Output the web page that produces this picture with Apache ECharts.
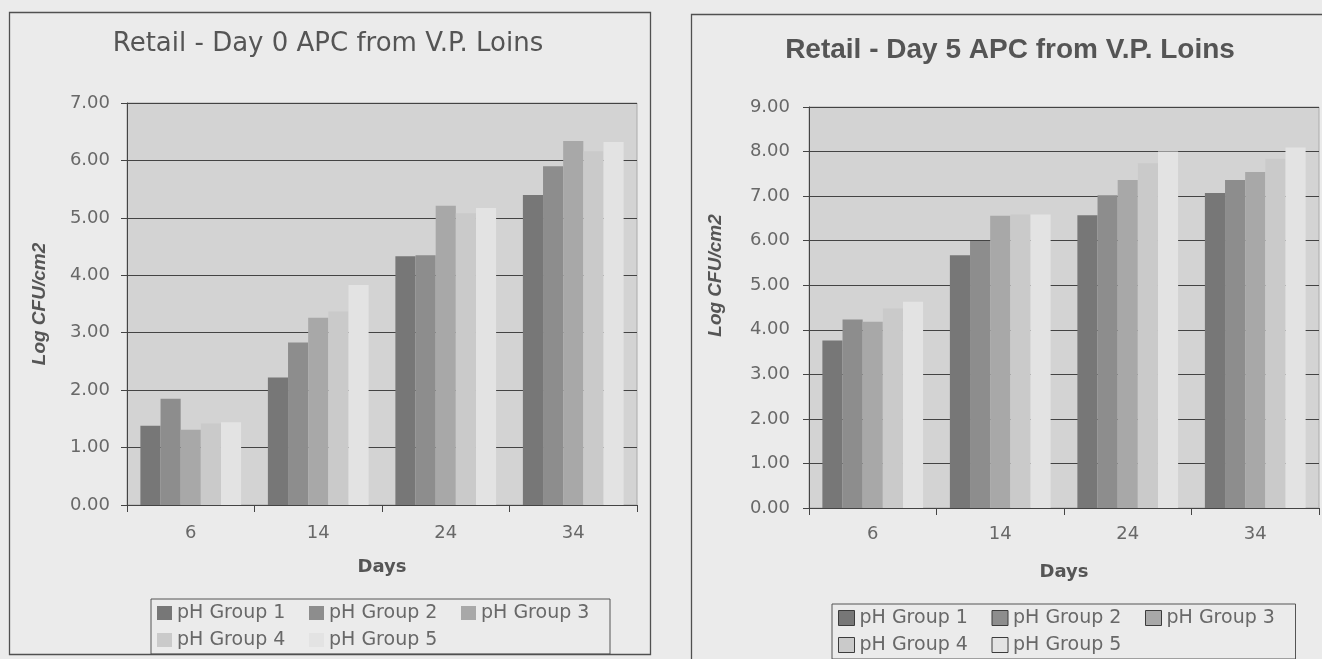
<!DOCTYPE html>
<html>
<head>
<meta charset="utf-8">
<script src="https://cdn.jsdelivr.net/npm/echarts@6/dist/echarts.min.js"></script>
<style>
  html, body { margin: 0; padding: 0; background: #ebebeb; }
  #chart { width: 1322px; height: 659px; }
</style>
</head>
<body>
<div id="chart"></div>
<script>
// Storage days on the category axis
const days = ['6', '14', '24', '34'];
const groupNames = ['pH Group 1', 'pH Group 2', 'pH Group 3', 'pH Group 4', 'pH Group 5'];

// Retail day 0 APC (log CFU/cm2), one array per pH group
const day0Group1 = [1.38, 2.22, 4.33, 5.40];
const day0Group2 = [1.85, 2.83, 4.35, 5.90];
const day0Group3 = [1.31, 3.26, 5.21, 6.34];
const day0Group4 = [1.42, 3.37, 5.08, 6.16];
const day0Group5 = [1.44, 3.83, 5.17, 6.32];

// Retail day 5 APC (log CFU/cm2)
const day5Group1 = [3.76, 5.67, 6.57, 7.07];
const day5Group2 = [4.23, 5.99, 7.02, 7.36];
const day5Group3 = [4.18, 6.56, 7.36, 7.54];
const day5Group4 = [4.48, 6.59, 7.74, 7.84];
const day5Group5 = [4.63, 6.59, 8.00, 8.09];

// Value-axis ranges (ticks every 1.00)
const day0AxisMax = 7;
const day5AxisMax = 9;

const day0 = [day0Group1, day0Group2, day0Group3, day0Group4, day0Group5];
const day5 = [day5Group1, day5Group2, day5Group3, day5Group4, day5Group5];

const barColors = ['#777777', '#8d8d8d', '#a8a8a8', '#cacaca', '#e3e3e3'];
const inkColor = '#444444';
const labelColor = '#686868';
const regularFont = 'DejaVu Sans';

function valueAxis(gridIndex, maxVal, margin) {
  return {
    type: 'value', gridIndex: gridIndex, min: 0, max: maxVal, interval: 1,
    name: 'Log CFU/cm2', nameLocation: 'middle',
    nameTextStyle: {
      fontFamily: 'Liberation Sans', fontSize: 19, fontWeight: 'bold',
      fontStyle: 'italic', color: '#555'
    },
    axisLine: { show: true, lineStyle: { color: inkColor, width: 1 } },
    axisTick: { show: true, length: 6, lineStyle: { color: inkColor } },
    axisLabel: {
      margin: margin, color: labelColor, fontFamily: regularFont, fontSize: 18,
      formatter: v => v.toFixed(2)
    },
    splitLine: { show: true, lineStyle: { color: '#434343', width: 1 } }
  };
}

function categoryAxis(gridIndex, labelMargin, nameGap) {
  return {
    type: 'category', gridIndex: gridIndex, data: days,
    name: 'Days', nameLocation: 'middle', nameGap: nameGap,
    nameTextStyle: { fontFamily: regularFont, fontSize: 18, fontWeight: 'bold', color: '#555' },
    axisLine: { show: true, lineStyle: { color: inkColor, width: 1 } },
    axisTick: { show: true, length: 7, lineStyle: { color: inkColor } },
    axisLabel: { margin: labelMargin, color: labelColor, fontFamily: regularFont, fontSize: 18 }
  };
}

function barSeries(values, axisIndex) {
  return values.map((data, i) => ({
    name: groupNames[i], type: 'bar',
    xAxisIndex: axisIndex, yAxisIndex: axisIndex,
    data: data,
    barGap: '0%', barCategoryGap: '21%',
    itemStyle: { color: barColors[i] },
    emphasis: { disabled: true },
    animation: false
  }));
}

function legendBox(left, top, iconW, textW, border) {
  return {
    left: left, top: top, orient: 'horizontal',
    width: 3 * (iconW + 5 + textW) + 14 + 12,
    padding: [4, 4, 4, 6], itemGap: 7, itemWidth: iconW, itemHeight: iconW - 1,
    icon: 'rect',
    borderColor: '#555', borderWidth: 1,
    itemStyle: border ? { borderColor: '#3c3c3c', borderWidth: 1 } : { borderWidth: 0 },
    textStyle: {
      fontFamily: regularFont, fontSize: 19, color: labelColor,
      width: textW, lineHeight: 20
    },
    data: groupNames,
    selectedMode: false
  };
}

const chart = echarts.init(document.getElementById('chart'), null, { renderer: 'canvas' });

const y0 = valueAxis(0, day0AxisMax, 17);
y0.nameGap = 78;
const y5 = valueAxis(1, day5AxisMax, 19);
y5.nameGap = 84;
y5.nameTextStyle.padding = [0, 0, 0, 64];

chart.setOption({
  backgroundColor: '#ebebeb',
  animation: false,
  title: [
    {
      text: 'Retail - Day 0 APC from V.P. Loins', left: 328, top: 31, textAlign: 'center', padding: 0,
      textStyle: { fontFamily: regularFont, fontSize: 26, fontWeight: 'normal', color: '#555' }
    },
    {
      text: 'Retail - Day 5 APC from V.P. Loins', left: 1010, top: 36, textAlign: 'center', padding: 0,
      textStyle: { fontFamily: 'Liberation Sans', fontSize: 28, fontWeight: 'bold', color: '#555' }
    }
  ],
  graphic: [
    { type: 'rect', silent: true, z: 100,
      shape: { x: 9.5, y: 12.5, width: 641, height: 642 },
      style: { fill: 'none', stroke: '#505050', lineWidth: 1.3 } },
    { type: 'rect', silent: true, z: 100,
      shape: { x: 691.5, y: 14.5, width: 660, height: 700 },
      style: { fill: 'none', stroke: '#505050', lineWidth: 1.3 } }
  ],
  legend: [
    legendBox(151, 599, 15, 125, false),
    legendBox(832, 604, 16, 125, true)
  ],
  grid: [
    { left: 127, right: 685, top: 103, bottom: 154, show: true,
      backgroundColor: '#d3d3d3', borderColor: '#ababab', borderWidth: 1 },
    { left: 809, right: 3, top: 107, bottom: 151, show: true,
      backgroundColor: '#d3d3d3', borderColor: '#ababab', borderWidth: 1 }
  ],
  xAxis: [categoryAxis(0, 19, 53), categoryAxis(1, 17, 55)],
  yAxis: [y0, y5],
  series: barSeries(day0, 0).concat(barSeries(day5, 1))
});
</script>
</body>
</html>
